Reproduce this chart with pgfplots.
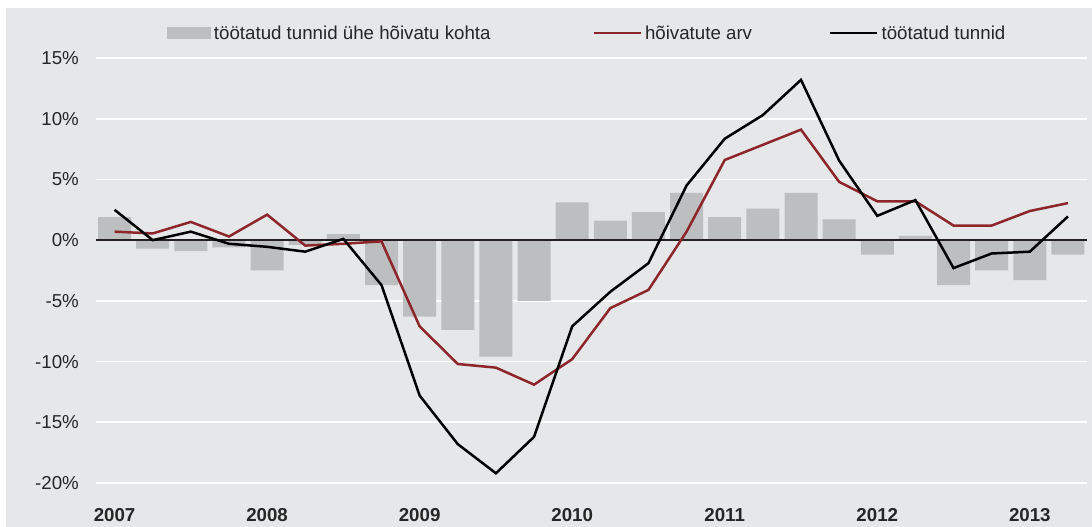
\documentclass[border=0pt]{standalone}
\usepackage{pgfplots}
\pgfplotsset{compat=1.18}
\usepackage{pgfplotstable}
\usepackage{fontspec}
\setmainfont{Liberation Sans}
\definecolor{panel}{RGB}{230,231,232}
\definecolor{barGray}{RGB}{189,190,192}
\definecolor{empRed}{RGB}{140,38,42}
\definecolor{zeroLine}{RGB}{35,31,32}
\pgfplotstableread{
q bar red black
0 1.9 0.7 2.5
1 -0.7 0.55 0.0
2 -0.9 1.5 0.7
3 -0.6 0.3 -0.3
4 -2.5 2.1 -0.55
5 -0.4 -0.45 -0.95
6 0.5 -0.3 0.1
7 -3.7 -0.1 -3.7
8 -6.3 -7.1 -12.8
9 -7.4 -10.2 -16.8
10 -9.6 -10.5 -19.2
11 -5.0 -11.9 -16.2
12 3.1 -9.8 -7.1
13 1.6 -5.6 -4.25
14 2.3 -4.1 -1.9
15 3.9 0.7 4.5
16 1.9 6.6 8.35
17 2.6 7.85 10.3
18 3.9 9.1 13.2
19 1.7 4.8 6.55
20 -1.2 3.2 2.0
21 0.35 3.2 3.3
22 -3.7 1.2 -2.3
23 -2.5 1.2 -1.1
24 -3.3 2.4 -0.95
25 -1.2 3.05 1.95
}\datatable
\begin{document}
\begin{tikzpicture}
\path[use as bounding box] (0pt,0pt) rectangle (1092pt,527pt);
\fill[panel] (6pt,0pt) rectangle (1092pt,519pt);
\begin{axis}[
  at={(95.5pt,44pt)}, anchor=south west,
  scale only axis, width=991.5pt, height=425pt,
  xmin=-0.5, xmax=25.5, ymin=-20, ymax=15,
  enlargelimits=false, clip=false,
  axis line style={draw=none}, tick style={draw=none},
  major tick length=0pt,
  ytick={-20,-15,-10,-5,0,5,10,15},
  yticklabels={-20\%,-15\%,-10\%,-5\%,0\%,5\%,10\%,15\%},
  ymajorgrids, grid style={white, line width=1.6pt},
  yticklabel style={anchor=east, inner sep=0pt, xshift=-16.5pt, font=\fontsize{18.7}{22}\selectfont, text=black!85},
  xtick={0,4,8,12,16,20,24},
  xticklabels={2007,2008,2009,2010,2011,2012,2013},
  xticklabel style={anchor=center, inner sep=0pt, yshift=-32pt, font=\fontsize{18.7}{22}\selectfont\bfseries, text=black!85},
  legend columns=3,
  legend style={draw=none, fill=none, inner sep=0pt, outer sep=0pt,
    at={(axis description cs:0.0721,1.0588)}, anchor=west,
    font=\fontsize{18.7}{22}\selectfont, text=black!85,
    nodes={inner sep=0pt},
    /tikz/every odd column/.append style={column sep=3pt},
    /tikz/column 2/.append style={column sep=102pt},
    /tikz/column 4/.append style={column sep=77pt}},
]
\addplot[ybar, bar width=33pt, fill=barGray, draw=none,
  legend image code/.code={\fill[barGray] (0pt,-6pt) rectangle (44pt,6pt);}]
  table[x=q, y=bar] {\datatable};
\addlegendentry{töötatud tunnid ühe hõivatu kohta}
\draw[zeroLine, line width=2.6pt] (axis cs:-0.5,0) -- (axis cs:25.5,0);
\addplot[empRed, line width=2.5pt, mark=none,
  legend image code/.code={\draw[empRed, line width=2.5pt] (0pt,0pt) -- (47pt,0pt);}]
  table[x=q, y=red] {\datatable};
\addlegendentry{hõivatute arv}
\addplot[black, line width=2.5pt, mark=none,
  legend image code/.code={\draw[black, line width=2.5pt] (0pt,0pt) -- (47pt,0pt);}]
  table[x=q, y=black] {\datatable};
\addlegendentry{töötatud tunnid}
\end{axis}
\end{tikzpicture}
\end{document}
